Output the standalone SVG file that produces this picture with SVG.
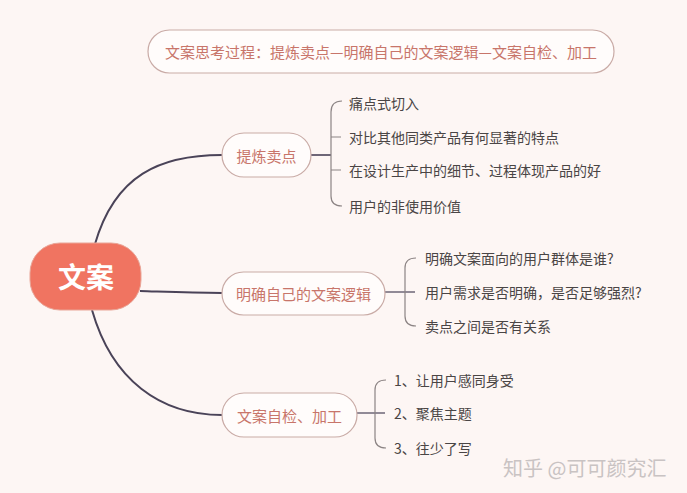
<svg xmlns="http://www.w3.org/2000/svg" width="687" height="493" viewBox="0 0 687 493">
<style>
.bg{fill:#FDF6F4}
.pill{fill:#FFFCFB;stroke:#C9ABA6;stroke-width:1.2}
.main{fill:none;stroke:#4A4358;stroke-width:2}
.br{fill:none;stroke:#8C8484;stroke-width:1.2}
.lbl{font-family:"Noto Sans CJK SC","Noto Sans",sans-serif;font-size:15px;fill:#C8756A;text-anchor:middle;dominant-baseline:central}
.item{font-family:"Noto Sans CJK SC","Noto Sans",sans-serif;font-size:14px;fill:#4A4545;dominant-baseline:central}
</style>
<rect class="bg" x="0" y="0" width="687" height="493"/>
<g id="title">
<rect class="pill" x="148" y="30" width="466" height="43" rx="21.5"/>
<text class="lbl" x="381" y="51.5">文案思考过程：提炼卖点—明确自己的文案逻辑—文案自检、加工</text>
</g>
<g id="connectors">
<path class="main" d="M95,244 C115,175 160,155 222,155"/>
<path class="main" d="M140,291 C170,292 190,293 222,293"/>
<path class="main" d="M92,310 C112,380 160,415 222,415"/>
<path class="main" d="M311,155 H331" style="stroke-width:1.6"/>
<path class="br" d="M342,101 Q331,101 331,112 V196 Q331,206 342,206 M331,137 Q331,137 341,137 M331,170 H341"/>
<path class="main" d="M385,292 H415" style="stroke-width:1.2"/>
<path class="br" d="M416,258 Q405,258 405,268 V316 Q405,326 416,326"/>
<path class="main" d="M357,413 H385" style="stroke-width:1.2"/>
<path class="br" d="M386,380 Q375,380 375,390 V438 Q375,448 386,448"/>
</g>
<g id="root">
<rect x="30" y="243" width="111" height="67" rx="30" fill="#F07461" stroke="#E9A597" stroke-width="1"/>
<text x="86" y="276" font-family="Noto Sans CJK SC,sans-serif" font-size="28" font-weight="bold" fill="#FFFFFF" text-anchor="middle" dominant-baseline="central">文案</text>
</g>
<g id="b1">
<rect class="pill" x="222" y="133" width="89" height="44" rx="22"/>
<text class="lbl" x="266.5" y="155">提炼卖点</text>
</g>
<g id="b2">
<rect class="pill" x="222" y="272" width="163" height="43" rx="21.5"/>
<text class="lbl" x="303.5" y="293">明确自己的文案逻辑</text>
</g>
<g id="b3">
<rect class="pill" x="222" y="393" width="135" height="44" rx="22"/>
<text class="lbl" x="289.5" y="415">文案自检、加工</text>
</g>
<g id="items1">
<text class="item" x="349" y="103">痛点式切入</text>
<text class="item" x="349" y="137">对比其他同类产品有何显著的特点</text>
<text class="item" x="349" y="170">在设计生产中的细节、过程体现产品的好</text>
<text class="item" x="349" y="206">用户的非使用价值</text>
</g>
<g id="items2">
<text class="item" x="425" y="258">明确文案面向的用户群体是谁?</text>
<text class="item" x="425" y="292">用户需求是否明确，是否足够强烈?</text>
<text class="item" x="425" y="326">卖点之间是否有关系</text>
</g>
<g id="items3">
<text class="item" x="394" y="380">1、让用户感同身受</text>
<text class="item" x="394" y="413">2、聚焦主题</text>
<text class="item" x="394" y="448">3、往少了写</text>
</g>
<text x="503" y="467" font-family="Noto Sans CJK SC,sans-serif" font-size="20" fill="#C9C3C3" dominant-baseline="central">知乎 @可可颜究汇</text>
</svg>
